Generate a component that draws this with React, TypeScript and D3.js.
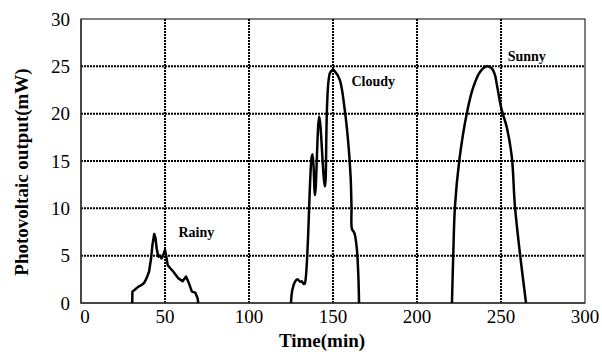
import React, { useEffect, useRef } from "react";
import * as d3 from "d3";

// time (min) / output (mW)
const rainyTime = [30.5, 30.6, 32, 34, 36, 37.5, 39, 40.5, 41.7, 42.5, 43.6, 44.4, 45, 46, 47, 48, 49.2, 50, 50.8, 51.6, 53, 55, 58, 60.5, 62.5, 64, 66, 68, 69.4, 69.8];
const rainyPower = [0, 1.2, 1.4, 1.7, 1.9, 2.1, 2.6, 3.3, 4.7, 6.1, 7.3, 6.8, 5.8, 4.9, 5.0, 4.7, 5.2, 5.6, 4.9, 4.0, 3.7, 3.3, 2.6, 2.3, 2.8, 2.2, 1.2, 1.1, 0.5, 0];

const cloudyTime = [125, 125.8, 127.4, 128.8, 130.4, 131.3, 132.7, 133.3, 137.3, 137.9, 139.3, 141.8, 145.2, 148.2, 150.2, 151, 154, 157, 159.1, 160.5, 161.0, 161.3, 162.7, 164.1, 165.1, 165.5];
const cloudyPower = [0, 1.4, 2.25, 2.5, 2.25, 2.3, 2.0, 2.1, 15.4, 15.7, 11.4, 19.7, 12.3, 24.3, 24.6, 24.5, 23.6, 20.4, 16.9, 13.3, 10.2, 7.8, 7.4, 5.9, 2.8, 0];

const sunnyTime = [220.8, 221.6, 222.6, 225.2, 229.6, 233.5, 237.5, 241.5, 244.4, 246.4, 247.4, 250.4, 253.4, 256.4, 258.3, 261.3, 264.9];
const sunnyPower = [0, 5.2, 10.2, 15.1, 20.0, 22.8, 24.4, 25.0, 24.8, 24.1, 23.2, 20.4, 18.6, 15.5, 10.2, 5.2, 0];

const xTicks = [0, 50, 100, 150, 200, 250, 300];
const yTicks = [0, 5, 10, 15, 20, 25, 30];

const labels = [
  { name: "Rainy", t: 58, v: 7.0 },
  { name: "Cloudy", t: 161, v: 22.9 },
  { name: "Sunny", t: 254, v: 25.6 },
];

export default function App() {
  const svgRef = useRef<SVGSVGElement>(null);

  useEffect(() => {
    const width = 602;
    const height = 352;
    const svg = d3.select(svgRef.current);
    svg.selectAll("*").remove();
    svg.attr("width", width).attr("height", height);

    const left = 81, right = 585, top = 19, bottom = 303;
    const x = d3.scaleLinear().domain([0, 300]).range([left, right]);
    const y = d3.scaleLinear().domain([0, 30]).range([bottom, top]);
    const font = "'Liberation Serif', 'Times New Roman', serif";

    // dotted grid
    const grid = svg.append("g");
    yTicks.filter(v => v > 0 && v < 30).forEach(v => {
      grid.append("line")
        .attr("x1", left).attr("x2", right)
        .attr("y1", y(v)).attr("y2", y(v))
        .attr("stroke", "#000").attr("stroke-width", 2)
        .attr("stroke-dasharray", "2,1");
    });
    xTicks.filter(t => t > 0 && t < 300).forEach(t => {
      grid.append("line")
        .attr("x1", x(t)).attr("x2", x(t))
        .attr("y1", top).attr("y2", bottom)
        .attr("stroke", "#000").attr("stroke-width", 2)
        .attr("stroke-dasharray", "2,1");
    });

    // frame
    svg.append("rect")
      .attr("x", left).attr("y", top)
      .attr("width", right - left).attr("height", bottom - top)
      .attr("fill", "none").attr("stroke", "#000").attr("stroke-width", 1);
    svg.append("path")
      .attr("d", `M${left},${top}V${bottom}H${right}`)
      .attr("fill", "none").attr("stroke", "#333").attr("stroke-width", 1.5);

    // tick labels
    svg.append("g").selectAll("text")
      .data(xTicks).enter().append("text")
      .attr("x", d => x(d) + (d === 0 ? 4 : 0))
      .attr("y", 323)
      .attr("text-anchor", "middle")
      .attr("font-family", font).attr("font-size", "19px")
      .text(d => d);

    svg.append("g").selectAll("text")
      .data(yTicks).enter().append("text")
      .attr("x", 70)
      .attr("y", d => y(d))
      .attr("dy", "0.35em")
      .attr("text-anchor", "end")
      .attr("font-family", font).attr("font-size", "19px")
      .text(d => d);

    // axis titles
    svg.append("text")
      .attr("x", 322).attr("y", 347)
      .attr("text-anchor", "middle")
      .attr("font-family", font).attr("font-size", "19px").attr("font-weight", "bold")
      .text("Time(min)");

    svg.append("text")
      .attr("transform", "translate(28,172) rotate(-90)")
      .attr("text-anchor", "middle")
      .attr("font-family", font).attr("font-size", "19px").attr("font-weight", "bold")
      .text("Photovoltaic output(mW)");

    // curves
    const line = d3.line<[number, number]>()
      .x(d => x(d[0]))
      .y(d => y(d[1]))
      .curve(d3.curveCatmullRom.alpha(0.5));

    const series = [
      { t: rainyTime, p: rainyPower, curve: d3.curveLinear },
      { t: cloudyTime, p: cloudyPower, curve: d3.curveCatmullRom.alpha(0.5) },
      { t: sunnyTime, p: sunnyPower, curve: d3.curveCatmullRom.alpha(0.5) },
    ];
    series.forEach(s => {
      const pts = s.t.map((t, i) => [t, s.p[i]] as [number, number]);
      svg.append("path")
        .datum(pts)
        .attr("fill", "none")
        .attr("stroke", "#000")
        .attr("stroke-width", 2.5)
        .attr("stroke-linejoin", "round")
        .attr("d", line.curve(s.curve));
    });

    // series labels
    labels.forEach(l => {
      svg.append("text")
        .attr("x", x(l.t)).attr("y", y(l.v))
        .attr("font-family", font).attr("font-size", "14px").attr("font-weight", "bold")
        .text(l.name);
    });
  }, []);

  return (
    <div style={{ position: "absolute", left: 0, top: 0 }}>
      <svg ref={svgRef}></svg>
    </div>
  );
}
